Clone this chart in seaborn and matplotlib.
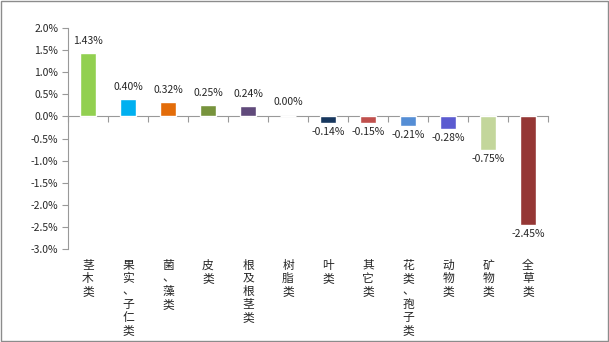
import matplotlib
matplotlib.use("Agg")
import matplotlib.pyplot as plt
import seaborn as sns
import pandas as pd
from matplotlib.ticker import FuncFormatter, FixedLocator
from matplotlib.patches import Rectangle

categories = ["茎木类", "果实、子仁类", "菌、藻类", "皮类", "根及根茎类", "树脂类",
              "叶类", "其它类", "花类、孢子类", "动物类", "矿物类", "全草类"]
changes = [1.43, 0.40, 0.32, 0.25, 0.24, 0.00,
           -0.14, -0.15, -0.21, -0.28, -0.75, -2.45]
colors = ["#92D050", "#00B0F0", "#E36C09", "#77933C", "#604A7B", "#4F81BD",
          "#17375E", "#C0504D", "#558ED5", "#5B5BD0", "#C3D69B", "#953735"]
y_ticks = [2.0, 1.5, 1.0, 0.5, 0.0, -0.5, -1.0, -1.5, -2.0, -2.5, -3.0]

sns.set_style("white")
plt.rcParams["font.family"] = ["Noto Sans CJK SC", "DejaVu Sans"]

df = pd.DataFrame({"category": categories, "change": changes})

fig = plt.figure(figsize=(6.09, 3.42), dpi=100)
ax = fig.add_axes([0.1117, 0.272, 0.7882, 0.646])

sns.barplot(data=df, x="category", y="change", hue="category",
            palette=colors, width=0.4, legend=False, ax=ax, saturation=1)

# value labels
for patch, v in zip(ax.patches, changes):
    x = patch.get_x() + patch.get_width() / 2
    if v > 0:
        ax.annotate(f"{v:.2f}%", (x, v), xytext=(0, 5), textcoords="offset points",
                    ha="center", va="bottom", fontsize=7.5)
    elif v == 0:
        ax.annotate(f"{v:.2f}%", (x, v), xytext=(0, 7), textcoords="offset points",
                    ha="center", va="bottom", fontsize=7.5)
    else:
        ax.annotate(f"{v:.2f}%", (x, v), xytext=(0, -3), textcoords="offset points",
                    ha="center", va="top", fontsize=7.5)

ax.set_ylim(-3.0, 2.0)
ax.set_xlim(-0.5, len(categories) - 0.5)
ax.yaxis.set_major_locator(FixedLocator(y_ticks))
ax.yaxis.set_major_formatter(FuncFormatter(lambda v, p: f"{v:.1f}%"))
ax.tick_params(axis="y", which="major", direction="out", length=4, width=0.8,
               color="#999999", labelsize=7.5, pad=3, left=True)

# category labels stacked vertically, one character per line
ax.set_xticks(range(len(categories)))
ax.set_xticklabels(["\n".join(c) for c in categories], fontsize=8.5,
                   va="top", linespacing=1.0)
ax.tick_params(axis="x", which="major", length=0, pad=7)
ax.set_xlabel("")
ax.set_ylabel("")

for s in ["top", "right", "bottom"]:
    ax.spines[s].set_visible(False)
ax.spines["left"].set_color("#999999")
ax.spines["left"].set_linewidth(0.8)

# zero line with tick marks at category boundaries
zero_axis = ax.secondary_xaxis(0, transform=ax.transData)
zero_axis.set_xticks([i - 0.5 for i in range(len(categories) + 1)])
zero_axis.set_xticklabels([])
zero_axis.tick_params(direction="out", length=4, width=0.8, color="#999999")
zero_axis.spines["bottom"].set_color("#999999")
zero_axis.spines["bottom"].set_linewidth(0.8)

# outer frame
fig.patches.append(Rectangle((0.001, 0.002), 0.997, 0.995, transform=fig.transFigure,
                             fill=False, edgecolor="#8c8c8c", linewidth=1.0))

fig.savefig("out.png", dpi=100)
